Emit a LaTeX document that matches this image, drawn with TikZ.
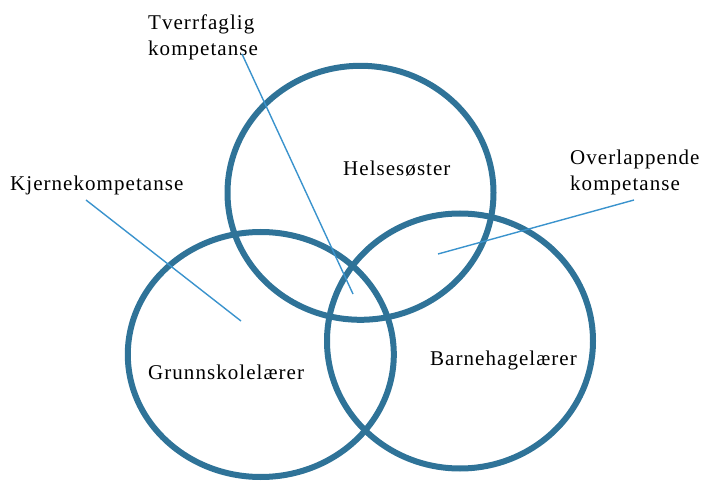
\documentclass[tikz,border=0pt]{standalone}
\usepackage{fontspec}
\setmainfont{Liberation Serif}[LetterSpace=5]
\usetikzlibrary{shapes.geometric}

\definecolor{ringblue}{HTML}{2F7398}
\definecolor{leaderblue}{HTML}{3A93CD}

\tikzset{
  ring/.style={ellipse, draw=ringblue, line width=6pt, inner sep=0pt,
    minimum width=266pt},
  leader/.style={draw=leaderblue, line width=1.4pt},
  lbl/.style={inner sep=0pt, text=black, font=\fontsize{21}{26}\selectfont},
}

\begin{document}
\begin{tikzpicture}[x=1pt, y=-1pt]
  \useasboundingbox (0,0) rectangle (702,481);

  % the three overlapping competence areas
  \node[ring, minimum height=254pt] (helse)  at (360.5,192.8) {};
  \node[ring, minimum height=245pt] (grunn)  at (260.8,354.5) {};
  \node[ring, minimum height=255pt] (barne)  at (460,341) {};

  % circle names
  \node[lbl, anchor=base west] (thelse) at (343,176) {Helsesøster};
  \node[lbl, anchor=base west] (tgrunn) at (148,379) {Grunnskolelærer};
  \node[lbl, anchor=base west] (tbarne) at (430,365) {Barnehagelærer};

  % callout labels
  \node[lbl, anchor=north west, align=left] (tverr) at (148,14.7) {Tverrfaglig\\kompetanse};
  \node[lbl, anchor=base west] (kjerne) at (10,191) {Kjernekompetanse};
  \node[lbl, anchor=north west, align=left] (overl) at (570,149.7) {Overlappende\\kompetanse};

  % leader lines from the callouts into the diagram
  \coordinate (tverrA) at (242,54);
  \coordinate (tverrB) at (353,294);
  \coordinate (kjerneA) at (86,200);
  \coordinate (kjerneB) at (241,321);
  \coordinate (overlA) at (634,200);
  \coordinate (overlB) at (438,254);

  \draw[leader] (tverrA) -- (tverrB);
  \draw[leader] (kjerneA) -- (kjerneB);
  \draw[leader] (overlA) -- (overlB);
\end{tikzpicture}
\end{document}
